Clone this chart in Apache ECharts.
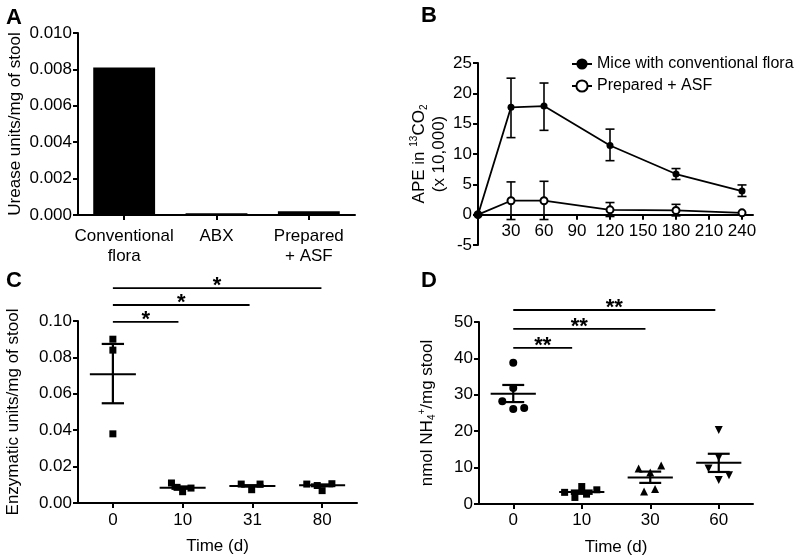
<!DOCTYPE html>
<html><head><meta charset="utf-8">
<script src="https://cdn.jsdelivr.net/npm/echarts@6/dist/echarts.min.js"></script>
<style>html,body{margin:0;padding:0;background:#fff}#c{width:794px;height:557px}</style>
</head><body><div id="c"></div><script>
// ---------- Panel A ----------
const aCategories = ['Conventional\nflora', 'ABX', 'Prepared\n+ ASF'];
const aValues = [0.0081, 0.0001, 0.0002];

// ---------- Panel B ----------
const bTimes = [0, 30, 60, 120, 180, 240];
const bConvMean = [0, 17.7, 17.9, 11.4, 6.7, 3.9];
const bConvLow  = [0, 12.7, 13.9, 8.9, 5.8, 3.0];
const bConvHigh = [0, 22.5, 21.7, 14.1, 7.6, 4.9];
const bAsfMean  = [0, 2.3, 2.3, 0.8, 0.7, 0.3];
const bAsfLow   = [0, -0.8, -0.8, -0.3, -0.2, 0.3];
const bAsfHigh  = [0, 5.4, 5.5, 2.0, 1.7, 0.3];
const bXTicks = [30, 60, 90, 120, 150, 180, 210, 240];
const bSeriesNames = ['Mice with conventional flora', 'Prepared + ASF'];

// ---------- Panel C ----------
const cCats = ['0', '10', '31', '80'];
const cOffsets = [[0, 0, 0], [-0.16, -0.08, 0.0, 0.12], [-0.16, -0.01, 0.11], [-0.22, -0.07, 0.0, 0.14]];
const cValues = [[0.090, 0.084, 0.038], [0.0110, 0.0086, 0.0062, 0.0082], [0.0104, 0.0073, 0.0104], [0.0104, 0.0096, 0.0068, 0.0106]];
const cMean = [0.0707, 0.0084, 0.0094, 0.0097];
const cSemLow = [0.0548, 0.0078, 0.0090, 0.0092];
const cSemHigh = [0.0874, 0.0091, 0.0098, 0.0102];
const cSigPairs = [[0, 1], [0, 2], [0, 3]];
const cSigLabels = ['*', '*', '*'];

// ---------- Panel D ----------
const dCats = ['0', '10', '30', '60'];
const dOffsets = [[0, 0, -0.16, 0, 0.16], [-0.25, -0.1, 0, 0.07, 0.22], [-0.17, 0.16, 0, -0.09, 0.07], [0, 0, -0.15, 0.15, 0]];
const dValues = [[38.8, 31.9, 28.2, 26.1, 26.4], [3.2, 1.8, 4.8, 2.7, 3.9], [9.75, 10.6, 8.65, 3.4, 4.1], [20.3, 12.8, 9.75, 7.9, 6.6]];
const dMean = [30.3, 3.3, 7.3, 11.3];
const dSemLow = [28.0, 2.8, 5.8, 8.8];
const dSemHigh = [32.7, 3.7, 8.9, 13.8];
const dSigPairs = [[0, 1], [0, 2], [0, 3]];
const dSigLabels = ['**', '**', '**'];

// ---------- styling helpers ----------
const FONT = '"Liberation Sans", Arial, Helvetica, sans-serif';
const line = () => ({show: true, onZero: false, lineStyle: {color: '#000', width: 2}});
const tick = (extra) => Object.assign({show: true, length: 5, lineStyle: {color: '#000', width: 2}}, extra || {});
const lab = (extra) => Object.assign({color: '#000', fontSize: 17, fontFamily: FONT, margin: 6}, extra || {});
const nameStyle = {color: '#000', fontSize: 17, fontFamily: FONT};
const richStyles = {
  t: {fontSize: 17, fontFamily: FONT, color: '#000', lineHeight: 20},
  sup: {fontSize: 10, fontFamily: FONT, color: '#000', verticalAlign: 'top', lineHeight: 14},
  sub: {fontSize: 10, fontFamily: FONT, color: '#000', verticalAlign: 'bottom', lineHeight: 14}
};

function errBarRender(params, api) {
  const x = api.value(0), lo = api.value(1), hi = api.value(2);
  if (hi - lo <= 0) return;
  const a = api.coord([x, lo]), b = api.coord([x, hi]);
  const hw = 4.5, st = {stroke: '#000', lineWidth: 1.6};
  return {type: 'group', children: [
    {type: 'line', shape: {x1: a[0], y1: a[1], x2: b[0], y2: b[1]}, style: st},
    {type: 'line', shape: {x1: a[0] - hw, y1: a[1], x2: a[0] + hw, y2: a[1]}, style: st},
    {type: 'line', shape: {x1: b[0] - hw, y1: b[1], x2: b[0] + hw, y2: b[1]}, style: st}
  ]};
}
function meanSemRender(params, api) {
  const i = api.value(0), m = api.value(1), lo = api.value(2), hi = api.value(3);
  const ml = api.coord([i - 0.33, m]), mr = api.coord([i + 0.33, m]);
  const l = api.coord([i, lo]), h = api.coord([i, hi]);
  const cw = api.size([0.16, 0])[0];
  const st = {stroke: '#000', lineWidth: 2.2};
  return {type: 'group', children: [
    {type: 'line', shape: {x1: ml[0], y1: ml[1], x2: mr[0], y2: mr[1]}, style: {stroke: '#000', lineWidth: 2}},
    {type: 'line', shape: {x1: l[0], y1: l[1], x2: h[0], y2: h[1]}, style: st},
    {type: 'line', shape: {x1: l[0] - cw, y1: l[1], x2: l[0] + cw, y2: l[1]}, style: st},
    {type: 'line', shape: {x1: h[0] - cw, y1: h[1], x2: h[0] + cw, y2: h[1]}, style: st}
  ]};
}
function sigRender(labels, base, step, shorten) {
  return function (params, api) {
    const k = params.dataIndex;
    const y = base + k * step;
    const from = api.value(0), to = api.value(1) - shorten[k];
    const a = api.coord([from, y]), b = api.coord([to, y]);
    return {type: 'group', children: [
      {type: 'line', shape: {x1: a[0], y1: a[1], x2: b[0], y2: b[1]}, style: {stroke: '#000', lineWidth: 1.8}},
      {type: 'text', style: {text: labels[k], x: (a[0] + b[0]) / 2, y: a[1] - 2, textAlign: 'center', textVerticalAlign: 'middle', font: 'bold 22px ' + FONT, fill: '#000'}}
    ]};
  };
}
function scatterData(offsets, values) {
  const out = [];
  values.forEach((g, i) => g.forEach((v, j) => out.push([i + offsets[i][j], v])));
  return out;
}
function groupData(offsets, values, i) {
  return values[i].map((v, j) => [i + offsets[i][j], v]);
}
const solid = {color: '#000', opacity: 1};

const chart = echarts.init(document.getElementById('c'), null, {renderer: 'canvas'});
const option = {
  animation: false,
  backgroundColor: '#fff',
  textStyle: {fontFamily: FONT, color: '#000'},
  grid: [
    {left: 78, top: 33, width: 277, height: 182},
    {left: 478, top: 63, width: 275, height: 182},
    {left: 78, top: 321, width: 279, height: 182},
    {left: 479, top: 322, width: 274, height: 183},
    {left: 478, top: 63, width: 275, height: 151.7}
  ],
  legend: {
    orient: 'vertical', left: 566, top: 51, itemGap: 6, itemWidth: 20, itemHeight: 14,
    data: bSeriesNames,
    textStyle: {color: '#000', fontSize: 16, fontFamily: FONT}
  },
  xAxis: [
    {gridIndex: 0, type: 'category', data: aCategories, axisLine: line(), axisTick: tick({alignWithLabel: true}),
     axisLabel: lab({margin: 11, lineHeight: 20, interval: 0}), splitLine: {show: false}},
    {gridIndex: 1, type: 'value', min: 0, max: 250, show: false},
    {gridIndex: 2, type: 'value', min: -0.5, max: 3.5, axisLine: line(), axisTick: tick({customValues: [0, 1, 2, 3]}),
     axisLabel: lab({margin: 9, customValues: [0, 1, 2, 3], formatter: v => cCats[Math.round(v)]}), splitLine: {show: false},
     name: 'Time (d)', nameLocation: 'middle', nameGap: 35, nameTextStyle: nameStyle},
    {gridIndex: 3, type: 'value', min: -0.5, max: 3.5, axisLine: line(), axisTick: tick({customValues: [0, 1, 2, 3]}),
     axisLabel: lab({margin: 8, customValues: [0, 1, 2, 3], formatter: v => dCats[Math.round(v)]}), splitLine: {show: false},
     name: 'Time (d)', nameLocation: 'middle', nameGap: 35, nameTextStyle: nameStyle},
    {gridIndex: 4, type: 'value', min: 0, max: 250, position: 'bottom', axisLine: line(),
     axisTick: tick({customValues: [0].concat(bXTicks)}), axisLabel: lab({margin: 8, customValues: bXTicks}), splitLine: {show: false}}
  ],
  yAxis: [
    {gridIndex: 0, type: 'value', min: 0, max: 0.01, interval: 0.002, axisLine: line(), axisTick: tick(),
     axisLabel: lab({formatter: v => v.toFixed(3)}), splitLine: {show: false},
     name: 'Urease units/mg of stool', nameLocation: 'middle', nameGap: 54, nameTextStyle: nameStyle},
    {gridIndex: 1, type: 'value', min: -5, max: 25, interval: 5, axisLine: line(), axisTick: tick(),
     axisLabel: lab(), splitLine: {show: false},
     name: '{t|APE in }{sup|13}{t|CO}{sub|2}\n{t|(x 10,000)}', nameLocation: 'middle', nameGap: 23,
     nameTextStyle: Object.assign({}, nameStyle, {lineHeight: 20, rich: richStyles})},
    {gridIndex: 2, type: 'value', min: 0, max: 0.1, interval: 0.02, axisLine: line(), axisTick: tick(),
     axisLabel: lab({formatter: v => v.toFixed(2)}), splitLine: {show: false},
     name: 'Enzymatic units/mg of stool', nameLocation: 'middle', nameGap: 56, nameTextStyle: nameStyle},
    {gridIndex: 3, type: 'value', min: 0, max: 50, interval: 10, axisLine: line(), axisTick: tick(),
     axisLabel: lab(), splitLine: {show: false},
     name: '{t|nmol NH}{sub|4}{sup|+}{t|/mg stool}', nameLocation: 'middle', nameGap: 42,
     nameTextStyle: Object.assign({}, nameStyle, {rich: richStyles})},
    {gridIndex: 4, type: 'value', min: 0, max: 25, show: false}
  ],
  graphic: [
    {type: 'text', left: 6, top: 7, style: {text: 'A', font: 'bold 22px ' + FONT, fill: '#000'}},
    {type: 'text', left: 421, top: 5, style: {text: 'B', font: 'bold 22px ' + FONT, fill: '#000'}},
    {type: 'text', left: 6, top: 270, style: {text: 'C', font: 'bold 22px ' + FONT, fill: '#000'}},
    {type: 'text', left: 421, top: 270, style: {text: 'D', font: 'bold 22px ' + FONT, fill: '#000'}}
  ],
  series: [
    // A
    {type: 'bar', xAxisIndex: 0, yAxisIndex: 0, data: aValues, barWidth: '67%', itemStyle: {color: '#000'}},
    // B
    {type: 'custom', xAxisIndex: 1, yAxisIndex: 1, renderItem: errBarRender, encode: {x: 0, y: [1, 2]},
     data: bTimes.map((t, i) => [t, bAsfLow[i], bAsfHigh[i]]), z: 2},
    {type: 'custom', xAxisIndex: 1, yAxisIndex: 1, renderItem: errBarRender, encode: {x: 0, y: [1, 2]},
     data: bTimes.map((t, i) => [t, bConvLow[i], bConvHigh[i]]), z: 2},
    {type: 'line', name: bSeriesNames[1], xAxisIndex: 1, yAxisIndex: 1, data: bTimes.map((t, i) => [t, bAsfMean[i]]),
     symbol: 'emptyCircle', symbolSize: 7, z: 3, itemStyle: {color: '#000', borderColor: '#000', borderWidth: 1.6},
     lineStyle: {color: '#000', width: 1.8}},
    {type: 'line', name: bSeriesNames[0], xAxisIndex: 1, yAxisIndex: 1, data: bTimes.map((t, i) => [t, bConvMean[i]]),
     symbol: 'circle', symbolSize: 7, z: 4, itemStyle: {color: '#000'}, lineStyle: {color: '#000', width: 1.8}},
    // C
    {type: 'scatter', xAxisIndex: 2, yAxisIndex: 2, data: scatterData(cOffsets, cValues), symbol: 'rect', symbolSize: 7,
     itemStyle: solid},
    {type: 'custom', xAxisIndex: 2, yAxisIndex: 2, renderItem: meanSemRender, encode: {x: 0, y: [1, 2, 3]},
     data: cMean.map((m, i) => [i, m, cSemLow[i], cSemHigh[i]]), z: 3},
    {type: 'custom', xAxisIndex: 2, yAxisIndex: 2, renderItem: sigRender(cSigLabels, 0.0995, 0.0093, [0.06, 0.04, 0.01]),
     encode: {x: [0, 1]}, data: cSigPairs.map(p => [p[0], p[1]]), clip: false},
    // D
    {type: 'scatter', xAxisIndex: 3, yAxisIndex: 3, data: groupData(dOffsets, dValues, 0), symbol: 'circle', symbolSize: 8, itemStyle: solid},
    {type: 'scatter', xAxisIndex: 3, yAxisIndex: 3, data: groupData(dOffsets, dValues, 1), symbol: 'rect', symbolSize: 7, itemStyle: solid},
    {type: 'scatter', xAxisIndex: 3, yAxisIndex: 3, data: groupData(dOffsets, dValues, 2), symbol: 'triangle', symbolSize: 8, itemStyle: solid},
    {type: 'scatter', xAxisIndex: 3, yAxisIndex: 3, data: groupData(dOffsets, dValues, 3), symbol: 'triangle', symbolRotate: 180, symbolSize: 8, itemStyle: solid},
    {type: 'custom', xAxisIndex: 3, yAxisIndex: 3, renderItem: meanSemRender, encode: {x: 0, y: [1, 2, 3]},
     data: dMean.map((m, i) => [i, m, dSemLow[i], dSemHigh[i]]), z: 3},
    {type: 'custom', xAxisIndex: 3, yAxisIndex: 3, renderItem: sigRender(dSigLabels, 42.9, 5.2, [0.14, 0.07, 0.05]),
     encode: {x: [0, 1]}, data: dSigPairs.map(p => [p[0], p[1]]), clip: false}
  ]
};
chart.setOption(option);
</script></body></html>
